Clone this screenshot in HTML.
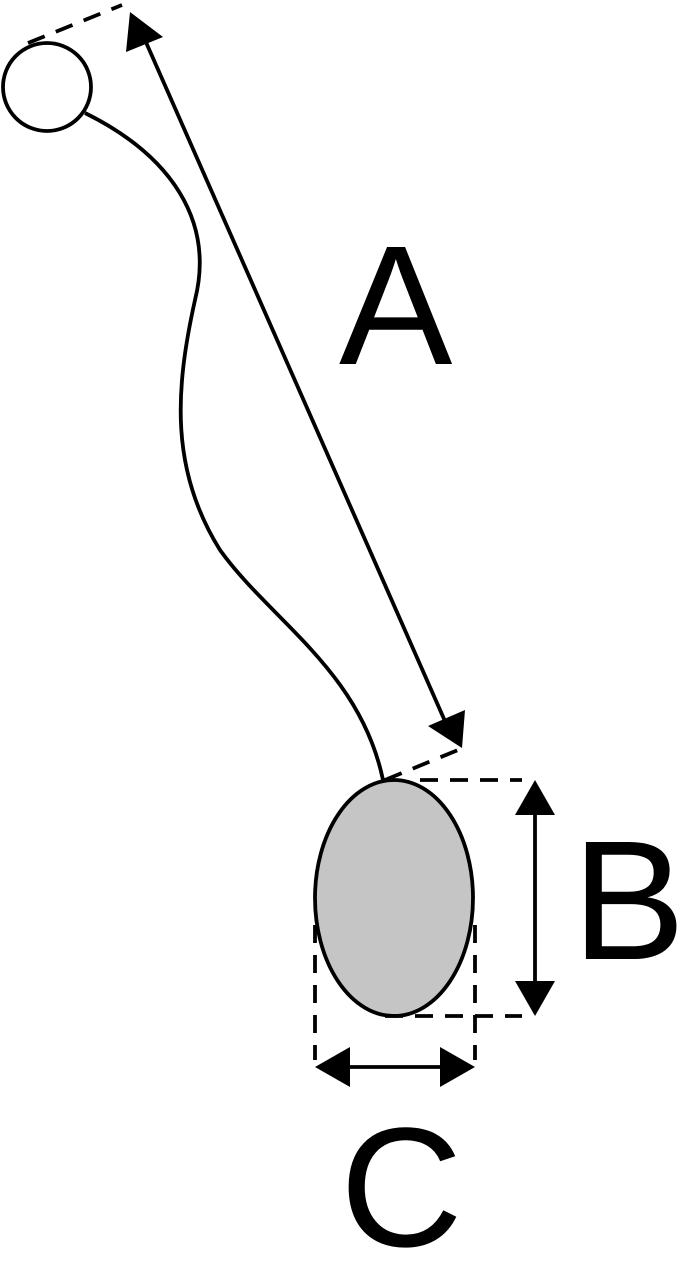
<!DOCTYPE html>
<html><head><style>body{margin:0;background:#fff}svg{display:block}</style></head><body>
<svg width="678" height="1282" viewBox="0 0 678 1282" xmlns="http://www.w3.org/2000/svg">
<g fill="none" stroke="#000" stroke-width="3.8">
<path d="M85,113 C170,155 215,220 195,300 C175,390 170,470 220,550 C270,620 360,670 383,780"/>
<circle cx="47" cy="87" r="44" fill="#fff"/>
<ellipse cx="394" cy="898" rx="79" ry="118" fill="#c6c5c6"/>
<g stroke-dasharray="18,12">
<line x1="28" y1="43" x2="122" y2="5"/>
<line x1="385" y1="780" x2="458" y2="750"/>
<line x1="420" y1="780" x2="522" y2="780"/>
<line x1="385" y1="1016" x2="522" y2="1016"/>
<line x1="315" y1="925" x2="315" y2="1060"/>
<line x1="475" y1="925" x2="475" y2="1060"/>
</g>
<line x1="145" y1="40" x2="448" y2="728"/>
<line x1="535" y1="810" x2="535" y2="985"/>
<line x1="345" y1="1067" x2="445" y2="1067"/>
</g>
<g fill="#000">
<polygon points="130,12 163,37 126,52"/>
<polygon points="465,710 462,748 428,726"/>
<polygon points="535,780 515,815 555,815"/>
<polygon points="535,1016 515,981 555,981"/>
<polygon points="315,1067 350,1047 350,1087"/>
<polygon points="475,1067 440,1047 440,1087"/>
</g>
<g font-family="Liberation Sans, sans-serif" font-size="170" fill="#000">
<text x="339" y="364">A</text>
<text x="572" y="959">B</text>
<text x="340" y="1246">C</text>
</g>
</svg>
</body></html>
